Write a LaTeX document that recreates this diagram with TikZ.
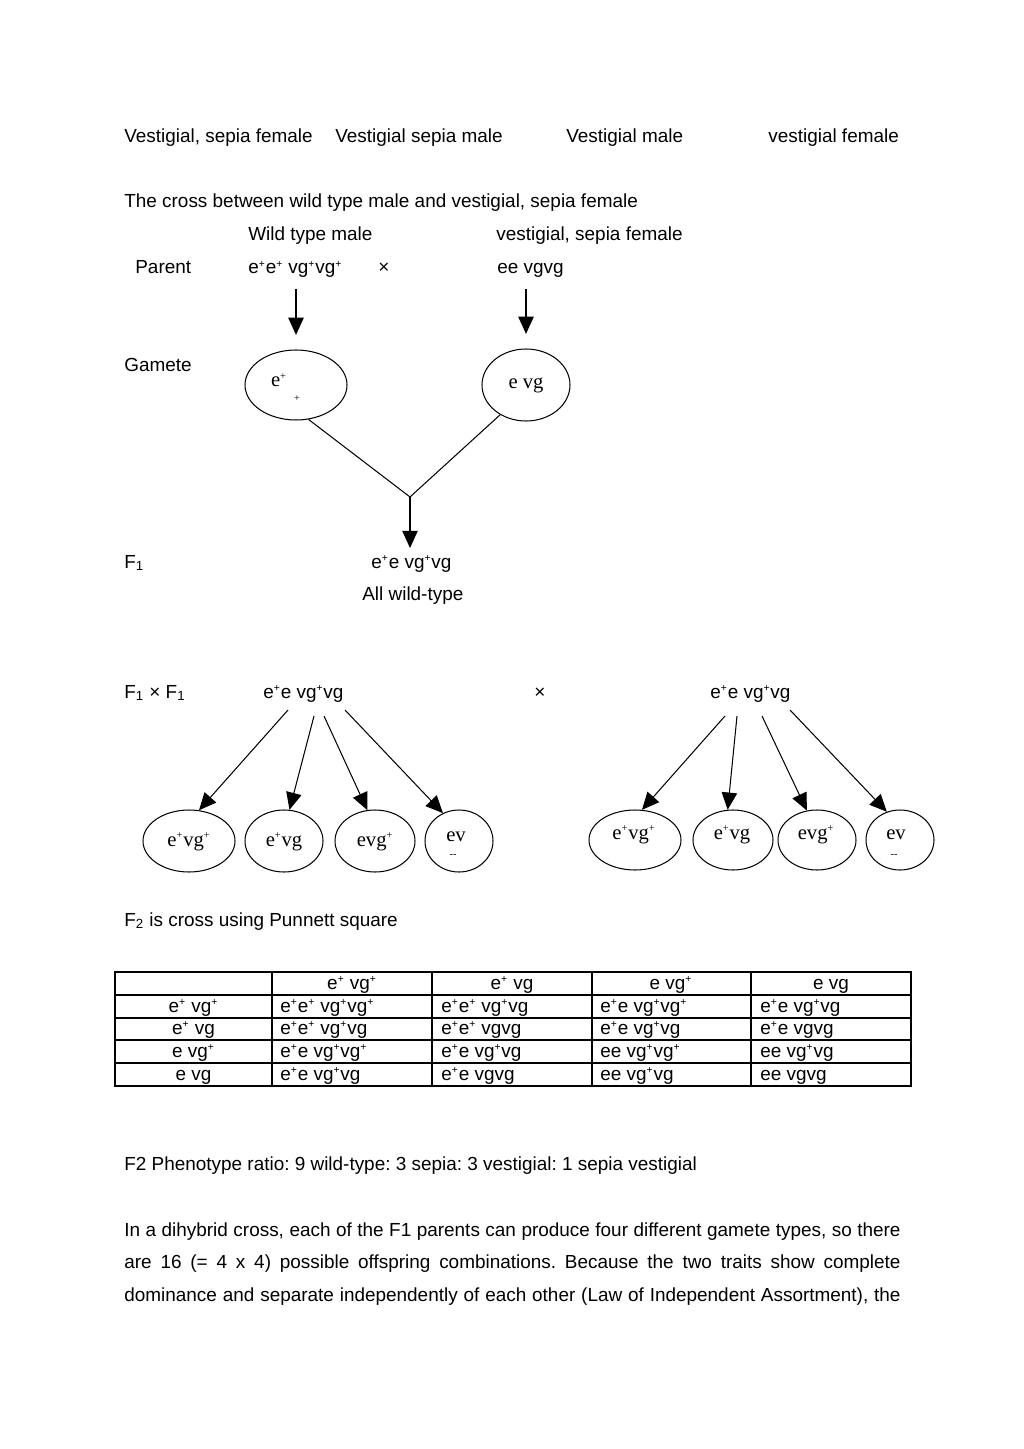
\documentclass[tikz,border=0pt]{standalone}
\usepackage{fontspec}
\setmainfont{Liberation Sans}
\newfontfamily\tms{Liberation Serif}
\usetikzlibrary{arrows.meta,shapes.geometric}
\newcommand{\wt}{\textsuperscript{\fontsize{6}{6}\selectfont +}}
\frenchspacing
\tikzset{
  txt/.style={anchor=base west, inner sep=0pt, font=\fontsize{11}{13}\selectfont},
  ctxt/.style={anchor=base, inner sep=0pt, font=\fontsize{11}{13}\selectfont},
  etxt/.style={inner sep=0pt, font=\tms\fontsize{12}{14}\selectfont},
  ell/.style 2 args={draw, ellipse, line width=0.6pt, inner sep=0pt,
    minimum width=#1*0.581pt, minimum height=#2*0.581pt},
  tip/.style={-{Triangle[length=10pt,width=9pt]}, line width=0.6pt},
  thinline/.style={line width=0.6pt}
}
\begin{document}
\begin{tikzpicture}[x=0.581pt,y=-0.581pt]
\useasboundingbox (0,0) rectangle (1024,1449);

\node[txt] (vsf) at (124,143) {Vestigial, sepia female};
\node[txt] (vsm) at (335,143) {Vestigial sepia male};
\node[txt] (vm) at (566,143) {Vestigial male};
\node[txt] (vf) at (768,143) {vestigial female};

\node[txt] (title) at (124,208) {The cross between wild type male and vestigial, sepia female};
\node[txt] (wtm) at (248,241) {Wild type male};
\node[txt] (vsfem) at (496,241) {vestigial, sepia female};
\node[txt] (parent) at (135,274) {Parent};
\node[txt] (pm) at (248,274) {e\wt e\wt{} vg\wt vg\wt};
\node[ctxt] (px) at (384,274) {×};
\node[txt] (pf) at (497,274) {ee vgvg};

\node[txt] (gamete) at (124,372) {Gamete};
\node[ell={102}{70}] (gl) at (296,385) {};
\node[etxt] (gla) at (279,380) {e\wt};
\node[etxt, font=\tms\fontsize{6}{7}\selectfont] (glb) at (297,399) {+};
\node[ell={88}{72}, etxt] (gr) at (526,385) {e vg};

\draw[tip, shorten <=6pt, shorten >=8.5pt] (gl.north |- pm.south) -- (gl.north);
\draw[tip, shorten <=6pt, shorten >=8.5pt] (gr.north |- pf.south) -- (gr.north);

\coordinate (join) at (410,497);
\draw[thinline] (gl.-70) -- (join) -- (gr.229);

\node[txt] (fone) at (124,568) {F\textsubscript{1}};
\node[txt] (fgen) at (371,568) {e\wt e vg\wt vg};
\node[txt] (allwt) at (362,600) {All wild-type};
\draw[tip, shorten >=4pt] (join) -- (fgen.north -| join);

\node[txt] (cross) at (124,698) {F\textsubscript{1} × F\textsubscript{1}};
\node[txt] (lp) at (263,698) {e\wt e vg\wt vg};
\node[ctxt] (cx) at (540,698) {×};
\node[txt] (rp) at (710,698) {e\wt e vg\wt vg};

\foreach \n/\cx/\rx in {1/189/46, 2/284/39, 3/375/40, 4/459/34}
  \node[ell={2*\rx}{62}] (l\n) at (\cx,841) {};
\foreach \n/\cx/\rx in {1/635/46, 2/733/40, 3/817/39, 4/900/34}
  \node[ell={2*\rx}{60}] (r\n) at (\cx,840) {};

\node[etxt] (lt1) at (189,842) {e\wt vg\wt};
\node[etxt] (lt2) at (284,842) {e\wt vg};
\node[etxt] (lt3) at (375,842) {evg\wt};
\node[etxt] (lt4) at (456,837) {ev};
\node[etxt, font=\tms\fontsize{6}{7}\selectfont] (lt5) at (453,856) {--};
\node[etxt] (rt1) at (634,835) {e\wt vg\wt};
\node[etxt] (rt2) at (732,835) {e\wt vg};
\node[etxt] (rt3) at (816,835) {evg\wt};
\node[etxt] (rt4) at (896,835) {ev};
\node[etxt, font=\tms\fontsize{6}{7}\selectfont] (rt5) at (894,856) {--};

\foreach \n/\sx/\sy/\a in {1/288/710/72, 2/314/716/80, 3/324/716/104, 4/345/710/120}{
  \coordinate (ls\n) at (\sx,\sy);
  \draw[tip] (ls\n) -- (l\n.\a);
}
\foreach \n/\sx/\sy/\a in {1/725/716/77, 2/737/716/100, 3/762/716/109, 4/790/710/115}{
  \coordinate (rs\n) at (\sx,\sy);
  \draw[tip] (rs\n) -- (r\n.\a);
}

\node[txt] (ftwo) at (124,926) {F\textsubscript{2} is cross using Punnett square};

\foreach \y in {995,1018,1040,1063}
  \draw[thinline] (115,\y) -- (911,\y);
\foreach \x in {272,432,592,751}
  \draw[line width=0.9pt] (\x,972) -- (\x,1086);
\draw[line width=1.2pt] (115,972) rectangle (911,1086);

\foreach \x/\t in {352/{e\wt{} vg\wt}, 512/{e\wt{} vg}, 671/{e vg\wt}, 831/{e vg}}
  \node[ctxt] at (\x,989) {\t};
\foreach \y/\t in {1012/{e\wt{} vg\wt}, 1034/{e\wt{} vg}, 1057/{e vg\wt}, 1080/{e vg}}
  \node[ctxt] at (193.5,\y) {\t};
\foreach \y/\a/\b/\c/\d in {
  1012/{e\wt e\wt{} vg\wt vg\wt}/{e\wt e\wt{} vg\wt vg}/{e\wt e vg\wt vg\wt}/{e\wt e vg\wt vg},
  1034/{e\wt e\wt{} vg\wt vg}/{e\wt e\wt{} vgvg}/{e\wt e vg\wt vg}/{e\wt e vgvg},
  1057/{e\wt e vg\wt vg\wt}/{e\wt e vg\wt vg}/{ee vg\wt vg\wt}/{ee vg\wt vg},
  1080/{e\wt e vg\wt vg}/{e\wt e vgvg}/{ee vg\wt vg}/{ee vgvg}}{
  \node[txt] at (280,\y) {\a};
  \node[txt] at (441,\y) {\b};
  \node[txt] at (600,\y) {\c};
  \node[txt] at (760,\y) {\d};
}

\node[txt] (ratio) at (124,1170) {F2 Phenotype ratio: 9 wild-type: 3 sepia: 3 vestigial: 1 sepia vestigial};

\node[txt] (para1) at (124,1236) {\makebox[451pt][s]{In a dihybrid cross, each of the F1 parents can produce four different gamete types, so there}};
\node[txt] (para2) at (124,1268) {\makebox[451pt][s]{are 16 (= 4 x 4) possible offspring combinations. Because the two traits show complete}};
\node[txt] (para3) at (124,1301) {\makebox[451pt][s]{dominance and separate independently of each other (Law of Independent Assortment), the}};
\end{tikzpicture}
\end{document}
